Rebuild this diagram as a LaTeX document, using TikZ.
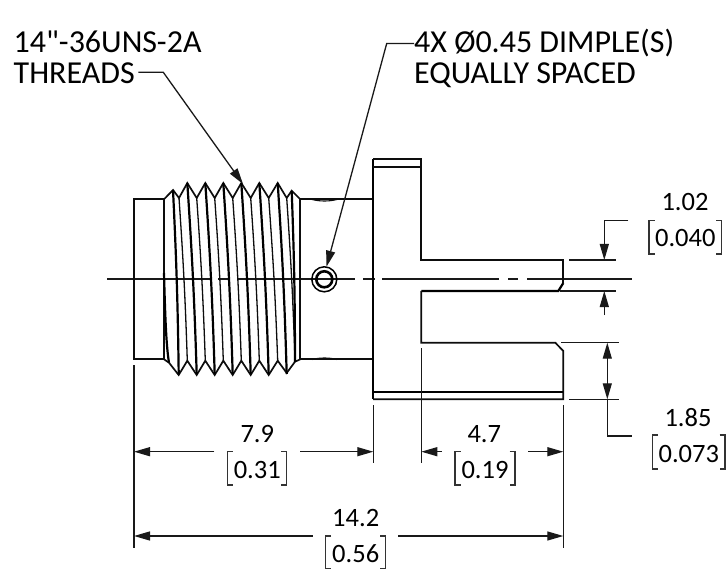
\documentclass[tikz,border=0pt]{standalone}
\usepackage{fontspec}
\setmainfont[Ligatures=TeXOff]{Carlito}
\usetikzlibrary{arrows.meta}
\tikzset{
  thin line/.style={line width=1.3pt,line cap=butt,color=black!90},
  obj/.style={line width=1.7pt,line join=miter,color=black!95},
  helixthin/.style={line width=1.3pt,color=black!95},
  heavy/.style={line width=2.2pt,line join=miter,color=black},
  tipboth/.style={{Triangle[length=16pt,width=9pt]}-{Triangle[length=16pt,width=9pt]}},
  tipend/.style={-{Triangle[length=16pt,width=9pt]}},
  note/.style={font=\fontsize{32}{32}\selectfont,anchor=base west,inner sep=0pt,text=black},
  dimtext/.style={font=\fontsize{26.5}{26.5}\selectfont,anchor=base,inner sep=0pt,text=black},
  bracket/.style={line width=1.1pt,color=black!80}
}
\newcommand{\brk}[5]{% name, left, right, top, bottom
  \draw[bracket] (#2+5.5,#4) -- (#2,#4) -- (#2,#5) -- (#2+5.5,#5);
  \draw[bracket] (#3-5.5,#4) -- (#3,#4) -- (#3,#5) -- (#3-5.5,#5);
}
\begin{document}
\begin{tikzpicture}[x=1pt,y=-1pt]
\useasboundingbox (0,0) rectangle (728,569);
% texts
\node[note] (t1) at (13.5,52.5) {14"-36UNS-2A};
\node[note] (t2) at (13.5,84) {THREADS};
\node[note] (t3) at (414,52.5) {4X Ø0.45 DIMPLE(S)};
\node[note] (t4) at (414,84) {EQUALLY SPACED};
% centre line
\draw[thin line,line width=1.6pt] (107,279.3) -- (211,279.3) (218,279.3) -- (230,279.3) (238,279.3) -- (355,279.3) (363,279.3) -- (375,279.3) (382,279.3) -- (499,279.3) (508,279.3) -- (518,279.3) (527,279.3) -- (632,279.3);
% cylinder
\draw[obj] (164,199.3) -- (134,199.3) -- (134,359.3) -- (164,359.3);
\draw[obj] (300.3,199.3) -- (373,199.3) (300.3,359.3) -- (373,359.3);
\draw[obj,line width=1.1pt] (312,199.5) .. controls (320,201.5) and (329,201.5) .. (337,199.5);
\draw[obj,line width=1.1pt] (312,359.5) .. controls (320,357.5) and (329,357.5) .. (337,359.5);
% thread outline
\draw[obj] (164,199.3) -- (173,190) -- (179,198) -- (187.3,183) -- (196.7,198) -- (205.3,183) -- (214.7,198) -- (223.3,183) -- (232.7,198) -- (241.3,183) -- (250.7,198) -- (259.3,183) -- (268.7,198) -- (277.7,183) -- (286.7,198) -- (291.7,190.7) -- (300.3,199.3);
\draw[obj] (164,359.3) -- (169,362.7) -- (178.7,375) -- (187.3,360.7) -- (196.7,375) -- (205.3,360.7) -- (214.7,375) -- (223.3,360.7) -- (232.7,375) -- (241.3,360.7) -- (250.7,375) -- (259.3,360.7) -- (268.7,375) -- (277.7,360.7) -- (286.7,373) -- (295,361.7) -- (300.3,359.3);
\draw[obj] (164,199.3) -- (164,359.3) (300.3,199.3) -- (300.3,359.3);
% thread helices
\foreach \a/\b in {179/187.3,196.7/205.3,214.7/223.3,232.7/241.3,250.7/259.3,268.7/277.7,286.7/295}
  \draw[helixthin] (\a,198) to[bend left=1] (\b,360.7);
\foreach \a/\b in {173/178.7,187.3/196.7,205.3/214.7,223.3/232.7,241.3/250.7,259.3/268.7,277.7/286.7,291.7/295}
  \draw[heavy] (\a,\ifdim\a pt<175pt 190\else\ifdim\a pt>290pt 191\else 183\fi\fi) to[bend left=1] (\b,\ifdim\a pt>290pt 362\else 374\fi);
\draw[heavy] (164,273) .. controls (165,310) and (166,345) .. (169,362.7);
% flange and prongs
\draw[heavy] (373,159.3) -- (373,399.3);
\draw[obj] (373,159.3) -- (421.3,159.3) -- (421.3,260) -- (563.3,260) -- (563.3,283);
\draw[obj] (373,167.3) -- (421.3,167.3);
\draw[heavy] (563.3,283) -- (558.3,291) -- (421.3,291);
\draw[obj] (421.3,291) -- (421.3,342.7) -- (555.3,342.7) -- (563.3,351) -- (563.3,399.3) -- (373,399.3);
\draw[heavy] (373,391.7) -- (563.3,391.7);
% dimple
\node[draw,circle,line width=1.5pt,minimum size=25pt,inner sep=0pt] (dimple) at (324.3,279.3) {};
\node[draw,circle,line width=2.6pt,minimum size=16pt,inner sep=0pt] (dimplein) at (324.3,279.3) {};
% leaders
\coordinate (a1) at (138.3,72.3);
\coordinate (a2) at (163.3,72.3);
\coordinate (a3) at (243,184);
\draw[thin line,tipend] (a1) -- (a2) -- (a3);
\coordinate (b1) at (414,43.5);
\coordinate (b2) at (386.7,43.5);
\coordinate (b3) at (326.5,266.7);
\draw[thin line,tipend] (b1) -- (b2) -- (b3);
% extension lines
\draw[thin line,line width=1.6pt] (134,365) -- (134,548);
\draw[thin line] (373.3,405) -- (373.3,463) (421.3,348.3) -- (421.3,463) (563.3,405) -- (563.3,548);
\draw[thin line] (569,260) -- (616,260) (560,291) -- (616,291) (561,342.7) -- (619.3,342.7) (569,399.3) -- (619.3,399.3);
% dimensions
\coordinate (c1) at (134,451.7); \coordinate (c2) at (214.3,451.7);
\coordinate (c3) at (300,451.7); \coordinate (c4) at (373.3,451.7);
\draw[thin line,tipend] (c2) -- (c1);
\draw[thin line,tipend] (c3) -- (c4);
\coordinate (d1) at (421.3,451.7); \coordinate (d2) at (441.7,451.7);
\coordinate (d3) at (528.3,451.7); \coordinate (d4) at (563.3,451.7);
\draw[thin line,tipend] (d2) -- (d1);
\draw[thin line,tipend] (d3) -- (d4);
\coordinate (e1) at (134,536); \coordinate (e2) at (312.7,536);
\coordinate (e3) at (398.3,536); \coordinate (e4) at (563.3,536);
\draw[thin line,tipend] (e2) -- (e1);
\draw[thin line,tipend] (e3) -- (e4);
\coordinate (f1) at (628.3,220.7); \coordinate (f2) at (604.3,220.7); \coordinate (f3) at (604.3,260);
\draw[thin line,tipend] (f1) -- (f2) -- (f3);
\coordinate (g1) at (604.3,315); \coordinate (g2) at (604.3,291);
\draw[thin line,tipend] (g1) -- (g2);
\coordinate (h1) at (607.3,342.7); \coordinate (h2) at (607.3,399.3); \coordinate (h3) at (607.3,436); \coordinate (h4) at (631.7,436);
\draw[thin line,tipboth] (h1) -- (h2);
\draw[thin line] (h2) -- (h3) -- (h4);
% dimension texts
\node[dimtext] (n1) at (257.3,442) {7.9};
\node[dimtext] (n2) at (257.3,478) {0.31};
\brk{b1}{227.3}{286.7}{451.7}{485}
\node[dimtext] (n3) at (484.3,442) {4.7};
\node[dimtext] (n4) at (485,478) {0.19};
\brk{b2}{455}{515}{451.7}{485}
\node[dimtext] (n5) at (355.7,526) {14.2};
\node[dimtext] (n6) at (355.7,562) {0.56};
\brk{b3}{325.7}{385.7}{536}{568.5}
\node[dimtext] (n7) at (685,211) {1.02};
\node[dimtext] (n8) at (685.3,247) {0.040};
\brk{b4}{649}{721.7}{220.7}{254}
\node[dimtext] (n9) at (688,426.5) {1.85};
\node[dimtext] (n10) at (688.8,462) {0.073};
\brk{b5}{652.7}{725}{435}{469}
\end{tikzpicture}
\end{document}
